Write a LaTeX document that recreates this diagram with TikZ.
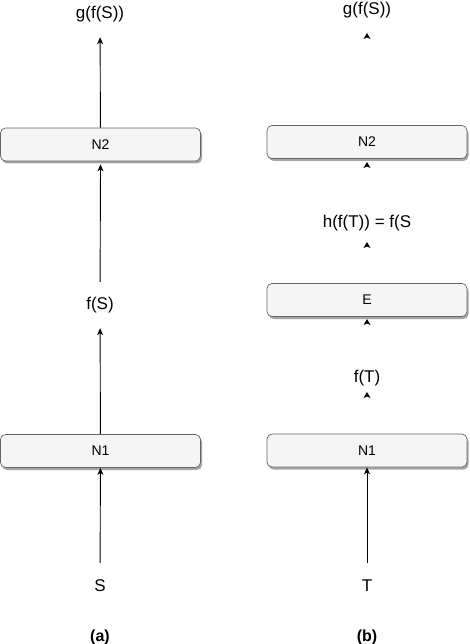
\documentclass[tikz,border=0pt]{standalone}
\usepackage{fontspec}
\setmainfont{Liberation Sans}
\usetikzlibrary{arrows.meta,shadows}
\definecolor{boxfill}{HTML}{F5F5F5}
\definecolor{boxline}{HTML}{666666}
\begin{document}
\begin{tikzpicture}[x=1pt,y=-1pt,
  box/.style={draw=boxline, fill=boxfill, rounded corners=5pt, line width=0.7pt,
    minimum width=200pt, minimum height=33pt, inner sep=0pt,
    font=\fontsize{14}{16}\selectfont,
    drop shadow={shadow xshift=1.5pt, shadow yshift=-2.5pt, fill=black, opacity=0.35}},
  lbl/.style={font=\fontsize{17}{20}\selectfont, minimum height=46pt, inner sep=0pt},
  subcap/.style={font=\fontsize{16}{19}\selectfont\bfseries, inner sep=0pt},
  arr/.style={-{Stealth[length=7pt,width=6pt,inset=2pt]}, line width=0.9pt},
  headonly/.style={fill=black}
]
\useasboundingbox (0,0) rectangle (470,644);

% (a)
\node[box] (N2a) at (100.5,144.5) {N2};
\node[box] (N1a) at (100.5,451) {N1};
\node[lbl] (gSa) at (100,14) {g(f(S))};
\node[lbl] (fSa) at (100,305) {f(S)};
\node[lbl] (Sa) at (100,586) {S};
\node[subcap] (capA) at (100,637) {(a)};

\draw[arr] (Sa) -- (N1a);
\draw[arr] (N1a) -- (fSa);
\draw[arr] (fSa) -- ([yshift=-3pt]N2a.south);
\draw[arr] (N2a) -- (gSa);

% (b)
\node[box] (N2b) at (367,142) {N2};
\node[box] (Eb) at (367,300) {E};
\node[box] (N1b) at (367,450.5) {N1};
\node[lbl] (gSb) at (367,10) {g(f(S))};
\node[lbl] (hb) at (367,223) {h(f(T)) = f(S};
\node[lbl] (fTb) at (367,378) {f(T)};
\node[lbl] (Tb) at (367,586) {T};
\node[subcap] (capB) at (367,637) {(b)};

\draw[arr] (Tb) -- (N1b);

\coordinate (t1) at (367,33);
\coordinate (t2) at (367,162);
\coordinate (t3) at (367,242);
\coordinate (t4) at (367,319);
\coordinate (t5) at (367,392);
\foreach \t in {t1,t2,t3,t4,t5}
  \fill[headonly] (\t) -- ++(3.5,6) -- ++(-3.5,-1.5) -- ++(-3.5,1.5) -- cycle;
\end{tikzpicture}
\end{document}
